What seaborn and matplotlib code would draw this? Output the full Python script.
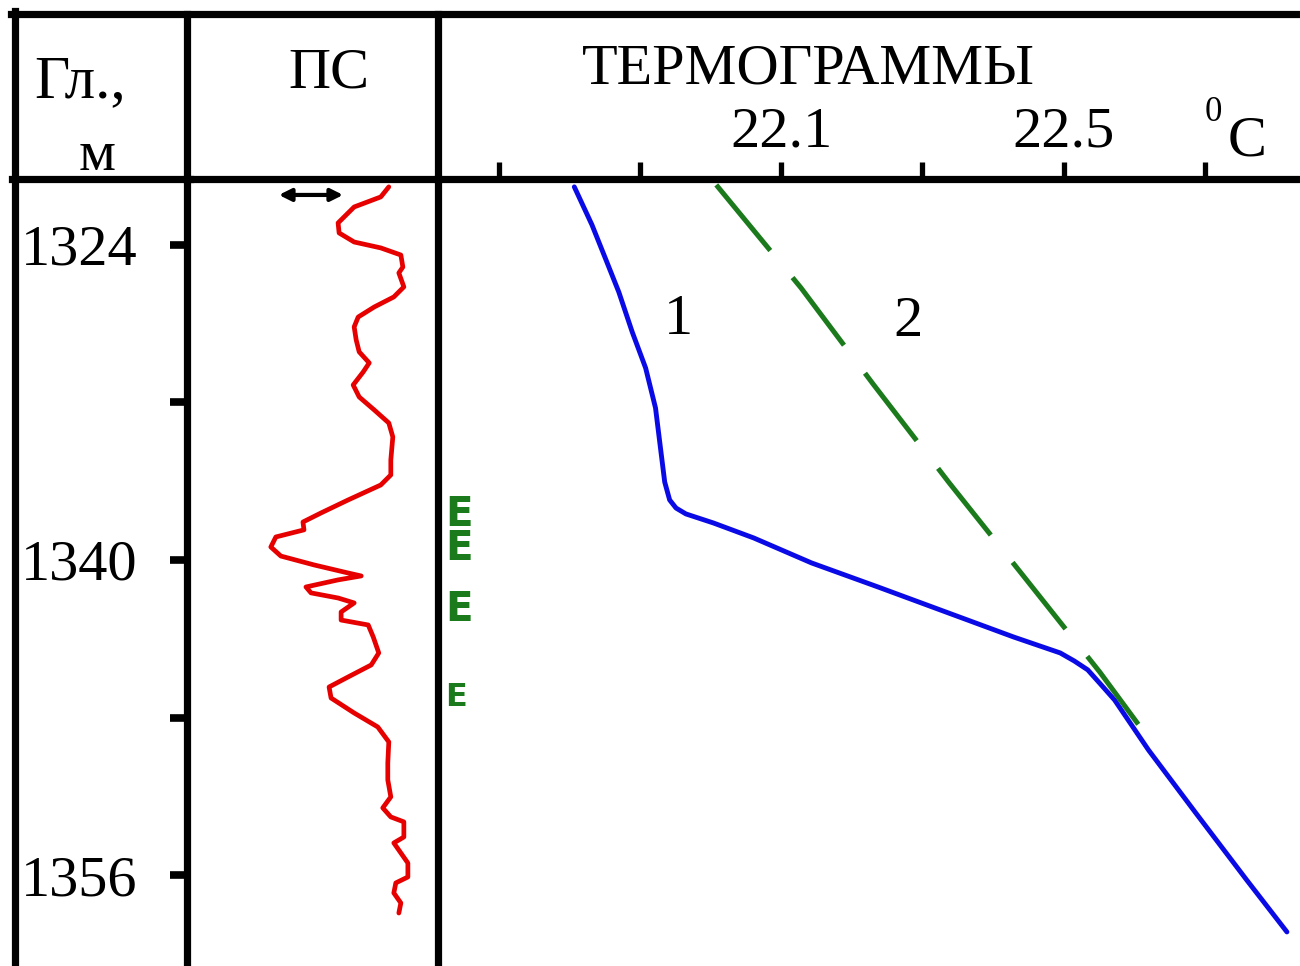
import numpy as np
import pandas as pd
import seaborn as sns
import matplotlib.pyplot as plt
from matplotlib.lines import Line2D

sns.set_style("white")
plt.rcParams['font.family'] = ['Liberation Serif', 'DejaVu Serif']
plt.rcParams['text.color'] = 'black'
plt.rcParams['xtick.labelcolor'] = 'black'
plt.rcParams['ytick.labelcolor'] = 'black'

# ПС (SP) curve, relative units
SP_DEPTH = [1321.05, 1321.56, 1322.07, 1322.88, 1323.39, 1323.85, 1324.15, 1324.51,
            1325.12, 1325.42, 1326.13, 1326.64, 1327.15, 1327.66, 1328.16, 1328.82,
            1329.43, 1329.99, 1330.45, 1331.11, 1331.72, 1332.38, 1333.04, 1333.75,
            1334.92, 1335.68, 1336.19, 1336.95, 1337.61, 1338.07, 1338.47, 1338.83,
            1339.34, 1339.80, 1340.25, 1340.66, 1340.81, 1341.01, 1341.37, 1341.67,
            1341.93, 1342.18, 1342.64, 1343.05, 1343.30, 1343.91, 1344.72, 1345.33,
            1345.94, 1346.45, 1347.01, 1347.77, 1348.48, 1349.24, 1350.31, 1351.17,
            1352.03, 1352.59, 1353.05, 1353.30, 1354.07, 1354.37, 1354.88, 1355.39,
            1356.10, 1356.40, 1356.91, 1357.42, 1357.93]
SP_VALUES = [40.2, 38.6, 33.3, 30.1, 30.3, 33.3, 38.6, 42.6,
             43.0, 42.2, 43.2, 41.2, 37.3, 34.1, 33.3, 33.7,
             34.3, 36.3, 35.1, 33.1, 34.3, 37.3, 40.2, 41.0,
             40.6, 40.6, 38.6, 32.1, 26.7, 23.1, 23.3, 17.7,
             16.7, 18.7, 25.3, 32.1, 34.7, 30.1, 23.7, 24.7,
             30.1, 33.3, 30.7, 30.7, 36.1, 37.1, 38.2, 36.7,
             32.1, 28.3, 28.7, 33.3, 38.0, 40.2, 40.0, 40.0,
             40.6, 39.0, 40.6, 43.2, 43.2, 41.2, 42.6, 44.0,
             44.0, 41.6, 41.2, 42.6, 42.2]

# thermogram 1 (solid blue)
T1_DEPTH = [1321.05, 1322.98, 1324.86, 1326.39, 1328.42, 1330.25, 1332.28, 1334.31,
            1336.04, 1336.95, 1337.36, 1337.66, 1338.12, 1338.88, 1340.15, 1341.37,
            1342.64, 1343.91, 1344.72, 1345.13, 1345.58, 1346.30, 1347.11, 1349.65,
            1352.85, 1356.25, 1358.89]
T1_TEMP = [21.807, 21.832, 21.853, 21.870, 21.889, 21.908, 21.922, 21.929,
           21.935, 21.942, 21.951, 21.965, 22.004, 22.061, 22.143, 22.237,
           22.333, 22.429, 22.495, 22.515, 22.534, 22.552, 22.572, 22.620,
           22.687, 22.759, 22.816]

# thermogram 2 (dashed green)
T2_DEPTH = [1320.95, 1326.18, 1331.06, 1336.09, 1340.86, 1345.69, 1349.39]
T2_TEMP = [22.008, 22.128, 22.230, 22.338, 22.444, 22.551, 22.627]

DEPTH_TICKS = [1324, 1332, 1340, 1348, 1356]
DEPTH_LABELS = ['1324', '', '1340', '', '1356']
TEMP_TICKS = [21.7, 21.9, 22.1, 22.3, 22.5, 22.7]
TEMP_LABELS = ['', '', '22.1', '', '22.5', '']

# perforation marks (first one is a stacked pair)
E_DEPTHS = [1338.58, 1342.54, 1346.96]
E_TEXTS = ['E\nE', 'E', 'E']
E_SIZES = [29, 29, 23]

RED = '#e60000'
BLUE = '#0a0ae6'
GREEN = '#1b7a1b'

W, H = 1300, 966
fig = plt.figure(figsize=(13, 9.66), dpi=100)


def fx(x):
    return x / W


def fy(y):
    return 1 - y / H


ax_t = fig.add_axes([fx(438), 0, fx(1330) - fx(438), fy(179)])
ax_sp = fig.add_axes([fx(187), 0, fx(438) - fx(187), fy(179)])
ax_t.set_facecolor('none')
ax_sp.set_facecolor('none')

ylim = (1360.62, 1320.65)
spine_w = 5.2

# --- ПС panel ---
sp_df = pd.DataFrame({'depth': SP_DEPTH, 'ps': SP_VALUES})
sns.lineplot(data=sp_df, x='ps', y='depth', sort=False, estimator=None,
             color=RED, linewidth=3.4, ax=ax_sp)
ax_sp.lines[-1].set_solid_joinstyle('round')
ax_sp.set_xlim(0, 50)
ax_sp.set_ylim(*ylim)
ax_sp.set_xlabel('')
ax_sp.set_ylabel('')
ax_sp.set_xticks([])
ax_sp.set_yticks(DEPTH_TICKS)
ax_sp.set_yticklabels(DEPTH_LABELS)
ax_sp.tick_params(axis='y', left=True, direction='out', length=12, width=5.5,
                  pad=24, labelsize=42, color='black')
for s in ['left', 'right', 'top']:
    ax_sp.spines[s].set_linewidth(spine_w)
    ax_sp.spines[s].set_color('black')
ax_sp.spines['bottom'].set_visible(False)

# scale arrow
ax_sp.annotate('', xy=(18.3, 1321.46), xytext=(31.1, 1321.46),
               arrowprops=dict(arrowstyle='<|-|>', color='black', lw=3,
                               mutation_scale=18, shrinkA=0, shrinkB=0))

# --- thermogram panel ---
t1 = pd.DataFrame({'depth': T1_DEPTH, 'temp': T1_TEMP})
t2 = pd.DataFrame({'depth': T2_DEPTH, 'temp': T2_TEMP})
sns.lineplot(data=t1, x='temp', y='depth', sort=False, estimator=None,
             color=BLUE, linewidth=3.5, ax=ax_t)
ax_t.lines[-1].set_solid_joinstyle('round')
sns.lineplot(data=t2, x='temp', y='depth', sort=False, estimator=None,
             color=GREEN, linewidth=3.6, ax=ax_t)
ax_t.lines[-1].set_dashes([17, 7])

ax_t.set_xlim(21.614, 22.877)
ax_t.set_ylim(*ylim)
ax_t.set_xlabel('')
ax_t.set_ylabel('')
ax_t.set_yticks([])
ax_t.xaxis.tick_top()
ax_t.set_xticks(TEMP_TICKS)
ax_t.set_xticklabels(TEMP_LABELS)
ax_t.tick_params(axis='x', top=True, direction='out', length=12, width=3.8, pad=3,
                 labelsize=42, color='black')
ax_t.spines['top'].set_linewidth(spine_w)
ax_t.spines['top'].set_color('black')
for s in ['left', 'right', 'bottom']:
    ax_t.spines[s].set_visible(False)

ax_t.text(21.954, 1327.81, '1', fontsize=42, ha='center', va='center')
ax_t.text(22.280, 1327.91, '2', fontsize=42, ha='center', va='center')

for d, txt, sz in zip(E_DEPTHS, E_TEXTS, E_SIZES):
    ax_t.text(0.008, d, txt, transform=ax_t.get_yaxis_transform(),
              fontsize=sz, fontweight='bold', color=GREEN, ha='left', va='center',
              linespacing=0.82, family=['Liberation Sans Narrow', 'DejaVu Sans'])

# --- header frame ---
frame = [
    ([fx(11), 1], [fy(14), fy(14)]),
    ([fx(15), fx(15)], [fy(11), 0]),
    ([fx(12), fx(190)], [fy(179), fy(179)]),
    ([fx(187), fx(187)], [fy(14), fy(179)]),
    ([fx(438), fx(438)], [fy(14), fy(179)]),
]
for xs, ys in frame:
    fig.add_artist(Line2D(xs, ys, lw=spine_w, color='black',
                          transform=fig.transFigure, solid_capstyle='projecting'))

fig.text(fx(80), fy(97), 'Гл.,', fontsize=44, ha='center', va='baseline')
fig.text(fx(97), fy(170), 'м', fontsize=42, ha='center', va='baseline')
fig.text(fx(329), fy(87), 'ПС', fontsize=42, ha='center', va='baseline')
fig.text(fx(808), fy(83), 'ТЕРМОГРАММЫ', fontsize=42, ha='center', va='baseline')
fig.text(fx(1213), fy(121), '0', fontsize=25, ha='center', va='baseline')
fig.text(fx(1228), fy(155), 'C', fontsize=42, ha='left', va='baseline')

fig.savefig('out.png', dpi=100)
